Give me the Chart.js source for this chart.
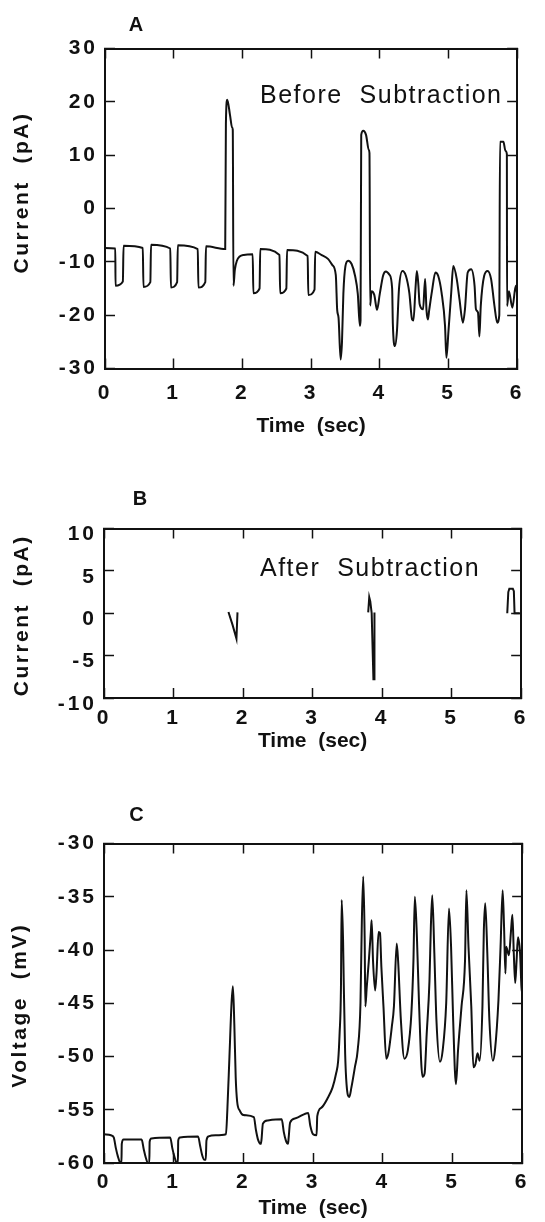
<!DOCTYPE html>
<html>
<head>
<meta charset="utf-8">
<script src="https://cdn.jsdelivr.net/npm/chart.js@4.4.1/dist/chart.umd.min.js"></script>
<style>
  html, body { margin: 0; padding: 0; background: #fff; }
  #wrap { position: relative; width: 545px; height: 1222px; overflow: hidden; }
  canvas { position: absolute; left: 0; display: block; }
</style>
</head>
<body>
<div id="wrap">
  <canvas id="chartA" width="545" height="445" style="top:0"></canvas>
  <canvas id="chartB" width="545" height="315" style="top:445px"></canvas>
  <canvas id="chartC" width="545" height="462" style="top:760px"></canvas>
</div>
<script>
/* Membrane current before / after subtraction, and voltage, 0-6 s */

const timeTicks = [0, 1, 2, 3, 4, 5, 6];
const beforeTicks = [-30, -20, -10, 0, 10, 20, 30];
const afterTicks = [-10, -5, 0, 5, 10];
const voltageTicks = [-60, -55, -50, -45, -40, -35, -30];

// A: current before subtraction (pA)
const beforeTime = [
  0, 0.15, 0.153, 0.26, 0.27, 0.55, 0.56, 0.66, 0.67, 0.95, 0.96, 1.05, 1.06, 1.35,
  1.36, 1.46, 1.47, 1.75, 1.76, 1.78, 1.82, 1.85, 1.86, 1.87, 1.89, 1.92, 1.96, 2.02,
  2.15, 2.16, 2.25, 2.26, 2.54, 2.55, 2.64, 2.65, 2.95, 2.96, 3.05, 3.06, 3.15, 3.25,
  3.31, 3.36, 3.38, 3.40, 3.43, 3.45, 3.47, 3.50, 3.54, 3.59, 3.64, 3.68, 3.71, 3.72,
  3.73, 3.76, 3.80, 3.84, 3.85, 3.86, 3.88, 3.92, 3.96, 4.00, 4.05, 4.09, 4.14, 4.18,
  4.19, 4.22, 4.25, 4.28, 4.33, 4.38, 4.43, 4.47, 4.49, 4.52, 4.54, 4.56, 4.58, 4.63,
  4.66, 4.68, 4.70, 4.72, 4.76, 4.81, 4.85, 4.90, 4.95, 4.97, 5.00, 5.04, 5.07, 5.12,
  5.16, 5.21, 5.24, 5.28, 5.33, 5.38, 5.40, 5.43, 5.45, 5.47, 5.52, 5.57, 5.62, 5.67,
  5.71, 5.74, 5.75, 5.80, 5.83, 5.85, 5.853, 5.88, 5.93, 5.98, 6.00
];
const beforeCurrent = [
  -7.4, -7.5, -14.5, -13.7, -7.0, -7.4, -14.7, -13.8, -6.8, -7.5, -14.8, -13.8, -6.9, -7.6,
  -14.8, -13.8, -7.1, -7.6, 16, 20.4, 17.5, 15.2, 14.8, -14.5, -11.5, -9.8, -9.0, -8.7,
  -8.6, -15.9, -15.0, -7.6, -8.7, -15.9, -15.0, -7.8, -8.9, -16.2, -15.2, -8.1, -8.7, -9.5,
  -10.6, -12.5, -19, -20.5, -28.3, -25, -16, -10.8, -9.8, -10.4, -12.6, -16, -22, -21,
  13.8, 14.6, 13.8, 11, 10.4, -18.2, -15.5, -16.2, -19, -16, -12.5, -11.8, -12.4, -15,
  -21.5, -25.8, -23, -15, -11.7, -12.6, -15.8, -20.8, -21, -15, -11.7, -14, -17.9, -18.9,
  -13.2, -19, -20.8, -19, -15.5, -12, -12.6, -15.8, -22, -28, -23, -15.8, -10.8, -13.2,
  -17, -21.4, -18.9, -12, -11.4, -14.5, -18.9, -19.5, -24, -18.3, -12.6, -11.7, -13.2, -18.3,
  -21.4, -20, 12.5, 12.5, 10.8, 10.2, -18.3, -15.5, -18.6, -14.5, -16
];

// B: current after subtraction (pA); null breaks the trace
const afterTime = [
  1.79, 1.85, 1.905, 1.92, 1.95,
  3.80, 3.815, 3.83, 3.85, 3.875, 3.885, 3.89, 3.93,
  5.80, 5.815, 5.83, 5.88, 5.895, 5.905, 5.98
];
const afterCurrent = [
  0.15, -1.4, -3.0, 0.1, null,
  0.1, 1.9, 1.4, 0, -7.8, -7.8, 0.1, null,
  0, 2.5, 2.9, 2.9, 2.6, 0, 0
];

// C: membrane voltage (mV)
const voltageTime = [
  0, 0.10, 0.14, 0.17, 0.20, 0.23, 0.25, 0.255, 0.28, 0.54, 0.57, 0.60, 0.63, 0.65,
  0.655, 0.68, 0.95, 0.98, 1.01, 1.04, 1.06, 1.065, 1.09, 1.35, 1.38, 1.41, 1.44, 1.46,
  1.47, 1.50, 1.60, 1.75, 1.77, 1.80, 1.83, 1.85, 1.87, 1.89, 1.91, 1.95, 2.00, 2.15,
  2.18, 2.21, 2.25, 2.26, 2.28, 2.35, 2.55, 2.58, 2.61, 2.64, 2.65, 2.67, 2.75, 2.93,
  2.96, 3.00, 3.05, 3.06, 3.12, 3.21, 3.28, 3.33, 3.36, 3.38, 3.40, 3.41, 3.43, 3.44,
  3.46, 3.48, 3.52, 3.55, 3.60, 3.64, 3.68, 3.70, 3.72, 3.74, 3.75, 3.77, 3.80, 3.83,
  3.84, 3.86, 3.89, 3.91, 3.94, 3.96, 3.98, 4.01, 4.05, 4.08, 4.13, 4.16, 4.20, 4.22,
  4.26, 4.31, 4.36, 4.41, 4.44, 4.46, 4.49, 4.52, 4.57, 4.60, 4.63, 4.67, 4.69, 4.71,
  4.74, 4.77, 4.82, 4.86, 4.91, 4.95, 4.98, 5.01, 5.05, 5.08, 5.13, 5.18, 5.20, 5.23,
  5.27, 5.30, 5.33, 5.36, 5.39, 5.43, 5.45, 5.47, 5.50, 5.53, 5.58, 5.61, 5.66, 5.69,
  5.72, 5.74, 5.76, 5.77, 5.81, 5.84, 5.86, 5.88, 5.90, 5.92, 5.94, 5.97, 5.99, 6.00
];
const voltage = [
  -57.3, -57.4, -57.6, -58.6, -59.4, -59.95, -60, -58.2, -57.8, -57.8, -58.7, -59.5, -60, -60,
  -58, -57.7, -57.6, -58.6, -59.4, -59.95, -60, -57.9, -57.6, -57.5, -58.4, -59.3, -59.7, -59.7,
  -57.9, -57.5, -57.4, -57.3, -55, -50, -45, -43.4, -47, -52, -54.2, -55.1, -55.5, -55.7,
  -56.9, -57.8, -58.2, -57.8, -56.3, -56.0, -55.9, -57.1, -57.9, -58.2, -57.6, -56.2, -55.8, -55.3,
  -56.5, -57.3, -57.4, -55.6, -54.8, -53.9, -52.9, -51.6, -50.4, -47.9, -43.5, -35.3, -39, -43,
  -49.7, -52.6, -53.8, -52.9, -51.0, -49.4, -45.0, -37.2, -33.1, -38.8, -45.3, -43.5, -41, -38.2,
  -37.2, -41, -43.8, -42.2, -38.3, -38.4, -41.6, -45.3, -50.2, -49.7, -47.2, -45.3, -39.4, -41,
  -46.6, -50.2, -49.4, -46, -41, -35, -38.8, -45, -51.9, -51.6, -47.9, -42.9, -37.8, -34.85,
  -40.3, -46.6, -50.5, -49.4, -45, -36.1, -39.7, -46.6, -52.6, -49.4, -45.3, -41, -34.4, -39.7,
  -45.3, -51.0, -50.7, -49.7, -50.4, -45.3, -38.2, -35.6, -40.3, -46.6, -50.4, -49.4, -44.7, -39.7,
  -34.4, -37.8, -42.2, -39.7, -40.5, -38.2, -36.7, -40.3, -43.1, -41, -38.8, -40.3, -43.5, -44
];

const INK = '#111';
const FONT = "'Liberation Sans', Arial, Helvetica, sans-serif";

const toPoints = (xs, ys) => xs.map((x, i) => ({ x, y: ys[i] }));

// panel letter, in-plot caption, rotated y title; tick labels get wider spacing
const panelText = {
  id: 'panelText',
  beforeDraw(chart) { chart.ctx.letterSpacing = '0px'; },
  afterDatasetsDraw(chart) { chart.ctx.letterSpacing = '3px'; },
  afterDraw(chart, args, o) {
    const { ctx, chartArea: a } = chart;
    ctx.save();
    ctx.fillStyle = INK;
    ctx.letterSpacing = '0px';
    ctx.textAlign = 'center';
    ctx.textBaseline = 'middle';
    ctx.font = `bold 20px ${FONT}`;
    ctx.fillText(o.letter, a.left + o.letterDx, a.top + o.letterDy);
    if (o.note) {
      ctx.letterSpacing = '1.5px';
      ctx.textAlign = 'left';
      ctx.textBaseline = 'alphabetic';
      ctx.font = `25px ${FONT}`;
      ctx.fillText(o.note, a.left + o.noteDx, a.top + o.noteDy);
    }
    ctx.translate(o.yTitleX, (a.top + a.bottom) / 2 + o.yTitleDy);
    ctx.rotate(-Math.PI / 2);
    ctx.letterSpacing = '2.5px';
    ctx.textAlign = 'center';
    ctx.textBaseline = 'middle';
    ctx.font = `bold 21px ${FONT}`;
    ctx.fillText(o.yTitle, 0, 0);
    ctx.restore();
  }
};

function frameAxis(position, min, max, tickValues, extra) {
  const horizontal = position === 'top' || position === 'bottom';
  return Object.assign({
    type: 'linear', position, min, max,
    afterBuildTicks: (s) => { s.ticks = tickValues.map((v) => ({ value: v })); },
    grid: { drawOnChartArea: false, tickLength: -10, tickWidth: 1.5, tickColor: INK },
    border: { color: INK, width: 2 },
    ticks: { display: false },
    afterFit: (s) => { if (horizontal) s.height = 0; else s.width = 0; },
  }, extra || {});
}

function makePanel(id, cfg) {
  return new Chart(document.getElementById(id), {
    type: 'line',
    data: {
      datasets: [{
        data: toPoints(cfg.xs, cfg.ys),
        borderColor: INK, borderWidth: 2, pointRadius: 0, spanGaps: false,
        cubicInterpolationMode: cfg.smooth ? 'monotone' : 'default', tension: 0,
      }],
    },
    options: {
      responsive: false, animation: false, events: [],
      layout: { padding: { top: cfg.top, right: cfg.right, left: 0, bottom: 0 } },
      plugins: {
        legend: { display: false }, tooltip: { enabled: false },
        panelText: cfg.text,
      },
      scales: {
        x: frameAxis('bottom', 0, 6, timeTicks, {
          afterFit: (s) => { s.height = cfg.xHeight; },
          ticks: {
            z: 1, color: INK, padding: cfg.xLabelPad, maxRotation: 0, autoSkip: false,
            font: { family: FONT, size: 21, weight: 'bold' },
            callback: (v) => String(v),
          },
          title: {
            display: true, text: 'Time  (sec)', color: INK,
            font: { family: FONT, size: 21, weight: 'bold' },
            padding: { top: 0, bottom: cfg.xTitlePad },
          },
        }),
        xTop: frameAxis('top', 0, 6, timeTicks),
        y: frameAxis('left', cfg.yMin, cfg.yMax, cfg.yTicks, {
          afterFit: (s) => { s.width = cfg.left; },
          ticks: {
            z: 1, color: INK, padding: 17, autoSkip: false, labelOffset: cfg.yLabelOffset || 0,
            font: { family: FONT, size: 21, weight: 'bold' },
            callback: (v) => String(v),
          },
        }),
        yRight: frameAxis('right', cfg.yMin, cfg.yMax, cfg.yTicks),
      },
    },
    plugins: [panelText],
  });
}

makePanel('chartA', {
  xs: beforeTime, ys: beforeCurrent, smooth: true,
  yMin: -30, yMax: 30, yTicks: beforeTicks,
  top: 48.5, right: 4, left: 105, xHeight: 445 - 368.5,
  xLabelPad: 22, xTitlePad: 6,
  text: { letter: 'A', letterDx: 31, letterDy: -23, note: 'Before  Subtraction', noteDx: 155, noteDy: 54.5,
          yTitle: 'Current  (pA)', yTitleX: 22, yTitleDy: -16 },
});

makePanel('chartB', {
  xs: afterTime, ys: afterCurrent, smooth: false,
  yMin: -10, yMax: 10, yTicks: afterTicks, yLabelOffset: 6,
  top: 83.5, right: 5, left: 104, xHeight: 315 - 253,
  xLabelPad: 18, xTitlePad: 6,
  text: { letter: 'B', letterDx: 36, letterDy: -29.5, note: 'After  Subtraction', noteDx: 156, noteDy: 47.5,
          yTitle: 'Current  (pA)', yTitleX: 22, yTitleDy: 2 },
});

makePanel('chartC', {
  xs: voltageTime, ys: voltage, smooth: true,
  yMin: -60, yMax: -30, yTicks: voltageTicks,
  top: 83.5, right: 6, left: 104, xHeight: 462 - 403,
  xLabelPad: 17, xTitlePad: 1,
  text: { letter: 'C', letterDx: 32.5, letterDy: -28.5,
          yTitle: 'Voltage  (mV)', yTitleX: 20, yTitleDy: 2 },
});
</script>
</body>
</html>
